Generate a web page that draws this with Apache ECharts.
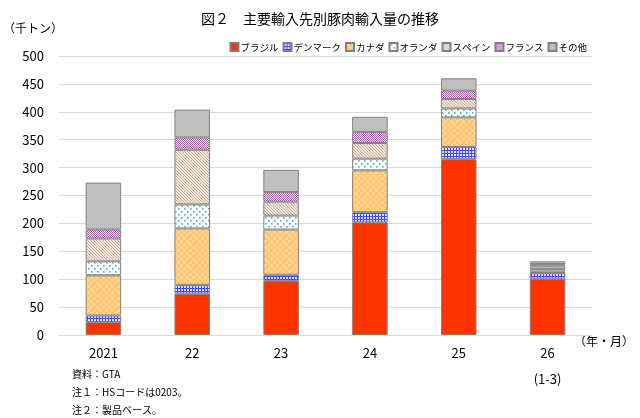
<!DOCTYPE html>
<html>
<head>
<meta charset="utf-8">
<script src="https://cdn.jsdelivr.net/npm/echarts@6/dist/echarts.min.js"></script>
<style>
  html, body { margin: 0; padding: 0; background: #fff; }
  #chart { width: 640px; height: 418px; }
</style>
</head>
<body>
<div id="chart"></div>
<script>
// 年 (2026 は 1-3 月)
const categories = ["2021", "22", "23", "24", "25", "26\n(1-3)"];
// 千トン
const brazil      = [23, 74, 97, 202, 315, 101];
const denmark     = [12, 16, 11, 18, 22, 10];
const canada      = [72, 101, 81, 75, 53, 3];
const netherlands = [25, 43, 25, 21, 16, 4];
const spain       = [41, 98, 25, 28, 17, 5];
const france      = [16, 22, 17, 20, 15, 4];
const others      = [84, 50, 40, 27, 22, 5];
const yTicks = [0, 50, 100, 150, 200, 250, 300, 350, 400, 450, 500];

const FONT = "'Noto Sans CJK JP', 'Noto Sans', sans-serif";

// small repeating tiles for the hatched fills
function tile(w, h, draw) {
  const c = document.createElement("canvas");
  c.width = w;
  c.height = h;
  draw(c.getContext("2d"));
  return { image: c, repeat: "repeat" };
}

const fills = {
  brazil: "#ff3300",
  denmark: tile(3, 3, (g) => {
    g.fillStyle = "#dcdfff"; g.fillRect(0, 0, 3, 3);
    g.fillStyle = "#4646ff"; g.fillRect(0, 0, 3, 1); g.fillRect(0, 0, 1, 3);
  }),
  canada: tile(6, 6, (g) => {
    g.fillStyle = "#ffc46c"; g.fillRect(0, 0, 6, 6);
    g.fillStyle = "#ffd494"; g.fillRect(0, 0, 3, 3); g.fillRect(3, 3, 3, 3);
  }),
  netherlands: tile(6, 6, (g) => {
    g.fillStyle = "#ffffff"; g.fillRect(0, 0, 6, 6);
    g.fillStyle = "#9fdada"; g.fillRect(1, 1, 2, 2); g.fillRect(4, 4, 2, 2);
    g.fillStyle = "#35b0b0"; g.fillRect(1, 1, 1, 1); g.fillRect(4, 4, 1, 1);
  }),
  spain: tile(3, 3, (g) => {
    g.fillStyle = "#efe5da"; g.fillRect(0, 0, 3, 3);
    g.fillStyle = "#c9b29c";
    for (let i = 0; i < 3; i++) g.fillRect(i, i, 1, 1);
  }),
  france: tile(2, 2, (g) => {
    g.fillStyle = "#f3dcf3"; g.fillRect(0, 0, 2, 2);
    g.fillStyle = "#b955b9"; g.fillRect(0, 0, 1, 1); g.fillRect(1, 1, 1, 1);
  }),
  others: "#bfbfbf",
};

const seriesDefs = [
  ["ブラジル", brazil, fills.brazil],
  ["デンマーク", denmark, fills.denmark],
  ["カナダ", canada, fills.canada],
  ["オランダ", netherlands, fills.netherlands],
  ["スペイン", spain, fills.spain],
  ["フランス", france, fills.france],
  ["その他", others, fills.others],
];

const chart = echarts.init(document.getElementById("chart"), null, { renderer: "canvas" });

chart.setOption({
  animation: false,
  backgroundColor: "#ffffff",
  textStyle: { fontFamily: FONT },
  title: {
    text: "図２　主要輸入先別豚肉輸入量の推移",
    left: "center",
    top: 7,
    textStyle: { fontFamily: FONT, fontSize: 14, fontWeight: "normal", color: "#000" },
  },
  legend: {
    right: 48,
    top: 37,
    icon: "rect",
    itemWidth: 8,
    itemHeight: 8,
    itemGap: 4,
    textStyle: { fontFamily: FONT, fontSize: 9.5, color: "#000", padding: [0, 0, 0, -3] },
    data: seriesDefs.map((s) => s[0]),
  },
  grid: { left: 52, right: 48, top: 56, bottom: 83, containLabel: false },
  xAxis: {
    type: "category",
    data: categories,
    axisTick: { show: false },
    axisLine: { lineStyle: { color: "#d9d9d9", width: 1 } },
    axisLabel: {
      color: "#000",
      fontFamily: FONT,
      fontSize: 13,
      lineHeight: 26,
      margin: 5,
      interval: 0,
    },
  },
  yAxis: {
    type: "value",
    min: yTicks[0],
    max: yTicks[yTicks.length - 1],
    interval: 50,
    name: "（千トン）",
    nameGap: 22,
    nameTextStyle: { fontFamily: FONT, fontSize: 12, color: "#000", align: "right", padding: [0, -4, 0, 0] },
    axisLine: { show: false },
    axisTick: { show: false },
    axisLabel: { color: "#000", fontFamily: FONT, fontSize: 13, margin: 15 },
    splitLine: { lineStyle: { color: "#d9d9d9", width: 1 } },
  },
  series: seriesDefs.map(([name, values, color]) => ({
    name,
    type: "bar",
    stack: "total",
    barWidth: "40%",
    data: values,
    itemStyle: { color, borderColor: "#808080", borderWidth: 1 },
    emphasis: { disabled: true },
  })),
  graphic: [
    { type: "text", left: 574, top: 335, style: { text: "（年・月）", font: "12px " + FONT, fill: "#000" } },
    { type: "text", left: 72, top: 369, style: { text: "資料：GTA", font: "10px " + FONT, fill: "#000" } },
    { type: "text", left: 72, top: 387, style: { text: "注１：HSコードは0203。", font: "10px " + FONT, fill: "#000" } },
    { type: "text", left: 72, top: 405, style: { text: "注２：製品ベース。", font: "10px " + FONT, fill: "#000" } },
  ],
});
</script>
</body>
</html>
